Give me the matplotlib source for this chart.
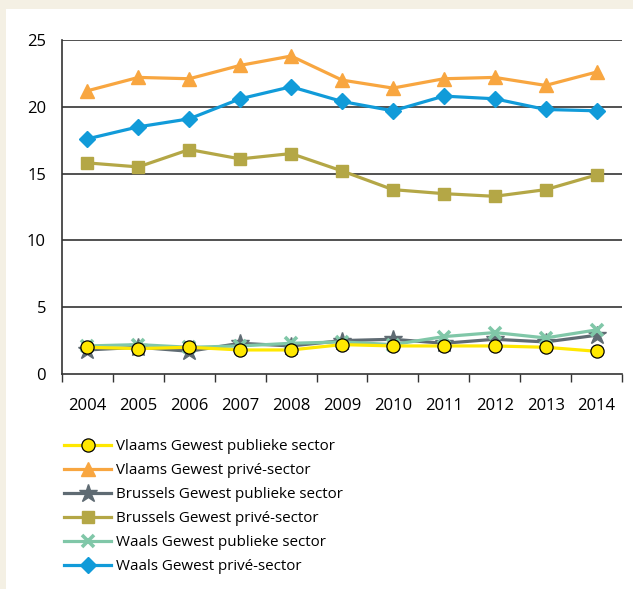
import matplotlib.pyplot as plt
from matplotlib.patches import Rectangle

plt.rcParams['font.family'] = ['Open Sans', 'DejaVu Sans']

years = ['2004', '2005', '2006', '2007', '2008', '2009', '2010', '2011', '2012', '2013', '2014']

vlaams_publiek = [2.0, 1.9, 2.0, 1.8, 1.8, 2.2, 2.1, 2.1, 2.1, 2.0, 1.7]
vlaams_prive = [21.2, 22.2, 22.1, 23.1, 23.8, 22.0, 21.4, 22.1, 22.2, 21.6, 22.6]
brussels_publiek = [1.8, 2.0, 1.7, 2.3, 2.1, 2.5, 2.6, 2.3, 2.6, 2.4, 2.9]
brussels_prive = [15.8, 15.5, 16.8, 16.1, 16.5, 15.2, 13.8, 13.5, 13.3, 13.8, 14.9]
waals_publiek = [2.1, 2.2, 2.0, 2.1, 2.3, 2.4, 2.2, 2.8, 3.1, 2.7, 3.3]
waals_prive = [17.6, 18.5, 19.1, 20.6, 21.5, 20.4, 19.7, 20.8, 20.6, 19.8, 19.7]

series = [
    ('Vlaams Gewest publieke sector', vlaams_publiek,
     dict(color='#ffe800', marker='o', ms=9.5, mfc='#ffe800', mec='black', mew=0.9, zorder=6)),
    ('Vlaams Gewest privé-sector', vlaams_prive,
     dict(color='#f8a640', marker='^', ms=10.5, zorder=5)),
    ('Brussels Gewest publieke sector', brussels_publiek,
     dict(color='#5f6b73', marker='*', ms=13.5, zorder=4)),
    ('Brussels Gewest privé-sector', brussels_prive,
     dict(color='#b4a746', marker='s', ms=8, zorder=5)),
    ('Waals Gewest publieke sector', waals_publiek,
     dict(color='#80c7a8', marker='x', ms=8.5, mew=2.6, zorder=5)),
    ('Waals Gewest privé-sector', waals_prive,
     dict(color='#119bd9', marker='D', ms=8, zorder=5)),
]

fig = plt.figure(figsize=(6.33, 5.89), dpi=100)
fig.patch.set_facecolor('#f4f0e4')
# white panel, leaving a beige strip on the left and top
panel = Rectangle((6 / 633, 0), 1, 1 - 9 / 589, transform=fig.transFigure,
                  facecolor='white', edgecolor='none', zorder=-10)
fig.patches.append(panel)

ax = fig.add_axes([62 / 633, 1 - 374 / 589, 560 / 633, 334 / 589])
ax.set_facecolor('white')

x = list(range(len(years)))
for label, values, style in series:
    ax.plot(x, values, label=label, lw=2.3, **style)

ax.set_xlim(-0.5, len(years) - 0.5)
ax.set_ylim(0, 25)
ax.set_yticks([0, 5, 10, 15, 20, 25])
for y in [5, 10, 15, 20, 25]:
    ax.axhline(y, color='#333333', lw=1.2, zorder=1)

ax.set_xticks(x)
ax.set_xticklabels(years)
ax.set_xticks([i - 0.5 for i in range(len(years) + 1)], minor=True)
ax.tick_params(axis='x', which='major', length=0, pad=17, labelsize=12)
ax.tick_params(axis='x', which='minor', length=6, width=1, color='#333333', direction='out')
ax.tick_params(axis='y', length=0, pad=11.5, labelsize=12)

for side in ['top', 'right']:
    ax.spines[side].set_visible(False)
for side in ['left', 'bottom']:
    ax.spines[side].set_color('#333333')
    ax.spines[side].set_linewidth(1.2)

fig.legend(loc='upper left', bbox_to_anchor=(58 / 633, 1 - 433 / 589),
           frameon=False, fontsize=10.9, handlelength=3.1, labelspacing=0.6,
           handletextpad=0.35, borderaxespad=0)

fig.savefig('out.png', dpi=100, facecolor=fig.get_facecolor())
